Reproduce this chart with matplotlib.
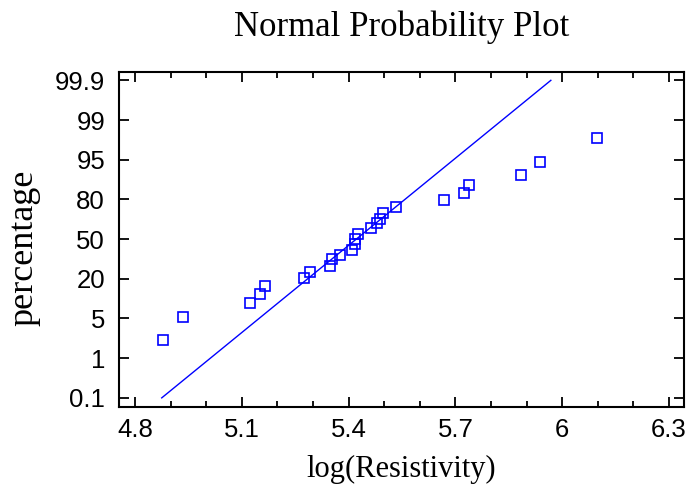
import numpy as np
import matplotlib
matplotlib.use("Agg")
import matplotlib.pyplot as plt
from matplotlib import font_manager as fm
from matplotlib.ticker import MultipleLocator, NullLocator

# values
log_res = [4.878, 4.935, 5.122, 5.152, 5.165, 5.274, 5.291, 5.348, 5.354, 5.375,
           5.410, 5.419, 5.417, 5.427, 5.462, 5.479, 5.488, 5.497, 5.532, 5.667,
           5.724, 5.737, 5.885, 5.938, 6.099]
pct = [2.8, 5.5, 10.8, 14.3, 17.2, 20.3, 25.1, 29.6, 34.7, 38.2,
       41.5, 46.1, 49.9, 53.6, 58.2, 62.0, 65.2, 70.0, 74.5, 79.4,
       82.6, 85.5, 89.2, 94.3, 97.2]
# reference line (from 0.1% to 99.9%)
line_x = [4.875, 5.968]
line_pct = [0.1, 99.9]

y_ticks = [0.1, 1, 5, 20, 50, 80, 95, 99, 99.9]
y_labels = ["0.1", "1", "5", "20", "50", "80", "95", "99", "99.9"]
x_ticks = [4.8, 5.1, 5.4, 5.7, 6.0, 6.3]
x_labels = ["4.8", "5.1", "5.4", "5.7", "6", "6.3"]

# the labels on this chart are evenly spaced, so the scale is piecewise linear
pos = np.arange(len(y_ticks), dtype=float)
pct_ext = np.concatenate([[-100.0], y_ticks, [200.0]])
pos_ext = np.concatenate([[-(100.0 + 0.1) / 0.9], pos, [8 + (200.0 - 99.9) / 0.9]])


def fwd(p):
    return np.interp(p, pct_ext, pos_ext)


def inv(u):
    return np.interp(u, pos_ext, pct_ext)


# regular Liberation Sans for the tick labels
sans_file = None
for f in fm.fontManager.ttflist:
    if "LiberationSans-Regular" in f.fname:
        sans_file = f.fname
        break
if sans_file:
    tick_font = fm.FontProperties(fname=sans_file, size=18.5)
else:
    tick_font = fm.FontProperties(family="DejaVu Sans", size=17)

serif = ["Liberation Serif", "DejaVu Serif"]

fig = plt.figure(figsize=(6.89, 4.91), dpi=100)
fig.subplots_adjust(left=119 / 689, right=684 / 689, top=1 - 72 / 491, bottom=1 - 407 / 491)
ax = fig.add_subplot(111)

ax.set_yscale("function", functions=(fwd, inv))

ax.plot(line_x, line_pct, color="#0000ff", lw=1.0)
ax.plot(log_res, pct, ls="none", marker="s", ms=6.5, mfc="none",
        mec="#0000ff", mew=1.2)

ax.set_xlim(4.755, 6.342)
ax.set_ylim(inv(-0.23), inv(8.21))

ax.set_xticks(x_ticks)
ax.set_xticklabels(x_labels, fontproperties=tick_font)
ax.xaxis.set_minor_locator(MultipleLocator(0.1))
ax.set_yticks(y_ticks)
ax.set_yticklabels(y_labels, fontproperties=tick_font)
ax.yaxis.set_minor_locator(NullLocator())

ax.tick_params(which="both", direction="in", top=True, right=True, width=1.3, color="black")
ax.tick_params(which="major", length=7, pad=8)
ax.tick_params(axis="y", which="major", pad=10)
ax.tick_params(which="minor", length=4)
for s in ax.spines.values():
    s.set_linewidth(1.5)

ax.set_title("Normal Probability Plot", family=serif, fontsize=25, pad=26)
ax.set_xlabel("log(Resistivity)", family=serif, fontsize=22, labelpad=9)
ax.set_ylabel("percentage", family=serif, fontsize=26)
ax.yaxis.set_label_coords(-0.14, 0.475)

fig.savefig("out.png", dpi=100)
